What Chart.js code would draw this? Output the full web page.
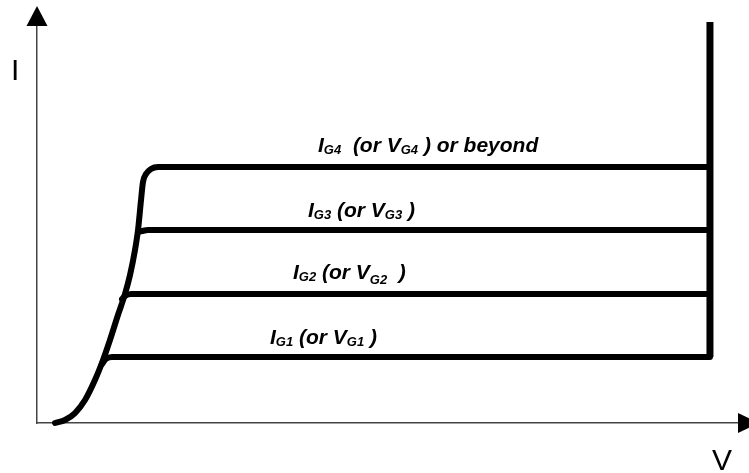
<!DOCTYPE html>
<html>
<head>
<meta charset="utf-8">
<script src="https://cdn.jsdelivr.net/npm/chart.js@4.4.0/dist/chart.umd.min.js"></script>
<style>
  html, body { margin: 0; padding: 0; background: #fff; }
  #wrap { width: 749px; height: 473px; position: relative; }
</style>
</head>
<body>
<div id="wrap"><canvas id="ivChart"></canvas></div>
<script>
// main rising curve that bends into the top (IG4) level
const curveV = [2.57, 3.99, 5.42, 6.85, 8.27, 9.42, 10.41, 11.55, 12.55, 13.27, 13.98, 14.41, 14.84, 15.12, 15.55, 16.26, 17.26, 96.0];
const curveI = [0, 0.75, 2.49, 5.74, 10.72, 15.71, 20.70, 26.93, 32.17, 36.91, 43.14, 48.13, 55.61, 60.10, 62.09, 63.34, 63.84, 63.84];

// branches leaving the curve for the lower gate levels
const g3V = [14.41, 14.98, 15.83, 96.0];
const g3I = [47.63, 47.88, 48.13, 48.13];
const g2V = [12.13, 12.55, 13.41, 96.0];
const g2I = [30.92, 31.67, 32.17, 32.17];
const g1V = [9.27, 9.84, 10.70, 96.0];
const g1I = [14.71, 15.96, 16.46, 16.46];

// breakdown edge on the right
const edgeV = [96.0, 96.0];
const edgeI = [16.46, 100];

const levelLabels = [
    ['I', 'G4', '  (or V', 'G4', ' ) or beyond'],
    ['I', 'G3', ' (or V', 'G3', ' )'],
    ['I', 'G2', ' (or V', 'G2', '  )'],
    ['I', 'G1', ' (or V', 'G1', ' )']
];

function pts(xs, ys) {
    return xs.map((x, i) => ({ x: x, y: ys[i] }));
}

function lineSet(xs, ys, width) {
    return {
        data: pts(xs, ys),
        borderColor: '#000',
        borderWidth: width,
        pointRadius: 0,
        borderCapStyle: 'round',
        borderJoinStyle: 'round',
        cubicInterpolationMode: 'monotone',
        clip: false,
        fill: false
    };
}

const decorations = {
    id: 'decorations',
    afterDraw(chart) {
        const ctx = chart.ctx;
        const xs = chart.scales.x, ys = chart.scales.y;
        const ax = xs.getPixelForValue(0);
        const ay = ys.getPixelForValue(0);
        ctx.save();
        ctx.fillStyle = '#000';
        // arrow heads
        ctx.beginPath();
        ctx.moveTo(ax, 6);
        ctx.lineTo(ax - 10.5, 26);
        ctx.lineTo(ax + 10.5, 26);
        ctx.closePath();
        ctx.fill();
        const rx = xs.right;
        ctx.beginPath();
        ctx.moveTo(rx, ay - 10);
        ctx.lineTo(rx + 21, ay);
        ctx.lineTo(rx, ay + 10);
        ctx.closePath();
        ctx.fill();

        // axis names
        ctx.font = '30px "Liberation Sans", Arial, sans-serif';
        ctx.textBaseline = 'alphabetic';
        ctx.fillText('I', 11, 80);
        ctx.fillText('V', 712, 470);

        // level labels (left edge, baseline)
        const anchors = [[40.09, 67.58], [38.66, 51.37], [36.52, 35.91], [33.24, 19.70]];
        const drops = [[2, 2], [2, 2], [2, 5], [2, 2]];
        const big = 'italic bold 21px "Liberation Sans", Arial, sans-serif';
        const small = 'italic bold 13px "Liberation Sans", Arial, sans-serif';
        levelLabels.forEach((parts, k) => {
            let px = xs.getPixelForValue(anchors[k][0]);
            const py = ys.getPixelForValue(anchors[k][1]);
            parts.forEach((txt, j) => {
                const sub = j % 2 === 1;
                ctx.font = sub ? small : big;
                ctx.fillText(txt, px, sub ? py + drops[k][(j - 1) / 2] : py);
                px += ctx.measureText(txt).width;
            });
        });
        ctx.restore();
    }
};

new Chart(document.getElementById('ivChart'), {
    type: 'line',
    data: {
        datasets: [
            lineSet(curveV, curveI, 6),
            lineSet(g3V, g3I, 6),
            lineSet(g2V, g2I, 6),
            lineSet(g1V, g1I, 6),
            Object.assign(lineSet(edgeV, edgeI, 7), { borderCapStyle: 'butt', cubicInterpolationMode: 'default' })
        ]
    },
    options: {
        responsive: true,
        maintainAspectRatio: false,
        animation: false,
        layout: { padding: { left: 37, top: 22, right: 11, bottom: 50 } },
        plugins: { legend: { display: false }, tooltip: { enabled: false } },
        scales: {
            x: {
                type: 'linear', min: 0, max: 100,
                grid: { display: false, drawTicks: false },
                ticks: { display: false },
                border: { color: '#444', width: 1.5 }
            },
            y: {
                type: 'linear', min: 0, max: 100,
                grid: { display: false, drawTicks: false },
                ticks: { display: false },
                border: { color: '#444', width: 1.5 }
            }
        }
    },
    plugins: [decorations]
});
</script>
</body>
</html>
